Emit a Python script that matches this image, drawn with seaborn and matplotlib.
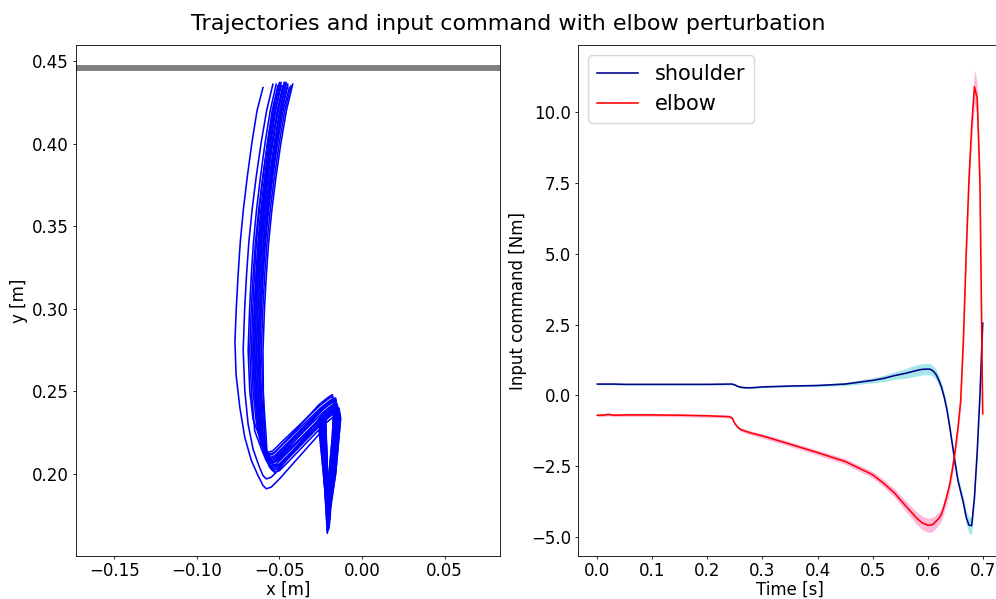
import matplotlib
matplotlib.use("Agg")
import matplotlib.pyplot as plt
from matplotlib.ticker import MultipleLocator
import seaborn as sns
import pandas as pd

# ---------------- Left panel: hand trajectories (x [m], y [m]) ----------------
t1_x = [-0.024, -0.0205, -0.0197, -0.018, -0.016, -0.015, -0.016, -0.019, -0.024, -0.047, -0.052, -0.055, -0.057, -0.0595, -0.061, -0.063, -0.064, -0.0632, -0.0622, -0.061, -0.0592, -0.057, -0.0544, -0.0514, -0.048]
t1_y = [0.230, 0.166, 0.174, 0.200, 0.222, 0.239, 0.245, 0.243, 0.239, 0.213, 0.208, 0.207, 0.209, 0.215, 0.227, 0.250, 0.275, 0.300, 0.320, 0.340, 0.360, 0.380, 0.400, 0.420, 0.435]
t2_x = [-0.022, -0.020, -0.0192, -0.016, -0.014, -0.013, -0.014, -0.017, -0.022, -0.046, -0.051, -0.054, -0.056, -0.0585, -0.059, -0.061, -0.062, -0.0612, -0.0601, -0.0588, -0.0569, -0.0545, -0.0518, -0.0486, -0.045]
t2_y = [0.228, 0.170, 0.178, 0.200, 0.222, 0.234, 0.240, 0.238, 0.234, 0.210, 0.205, 0.204, 0.206, 0.212, 0.224, 0.250, 0.275, 0.300, 0.320, 0.340, 0.360, 0.380, 0.400, 0.420, 0.436]
t3_x = [-0.025, -0.021, -0.0202, -0.020, -0.018, -0.017, -0.018, -0.021, -0.026, -0.049, -0.054, -0.057, -0.059, -0.0615, -0.064, -0.066, -0.067, -0.0662, -0.0652, -0.064, -0.0622, -0.060, -0.0574, -0.0544, -0.051]
t3_y = [0.233, 0.164, 0.172, 0.200, 0.222, 0.242, 0.248, 0.246, 0.242, 0.217, 0.212, 0.211, 0.213, 0.219, 0.231, 0.250, 0.275, 0.300, 0.320, 0.340, 0.360, 0.380, 0.400, 0.420, 0.435]
t4_x = [-0.023, -0.0205, -0.0197, -0.019, -0.017, -0.016, -0.017, -0.019, -0.022, -0.026, -0.050, -0.055, -0.058, -0.060, -0.063, -0.067, -0.071, -0.074, -0.0763, -0.077, -0.0762, -0.0751, -0.0738, -0.0719, -0.0695, -0.0668, -0.0636, -0.060]
t4_y = [0.229, 0.168, 0.176, 0.200, 0.222, 0.236, 0.242, 0.239, 0.232, 0.224, 0.197, 0.192, 0.191, 0.193, 0.199, 0.208, 0.222, 0.240, 0.260, 0.280, 0.300, 0.320, 0.340, 0.360, 0.380, 0.400, 0.420, 0.434]
t5_x = [-0.026, -0.0205, -0.0197, -0.017, -0.015, -0.014, -0.015, -0.018, -0.023, -0.045, -0.050, -0.053, -0.055, -0.0575, -0.058, -0.060, -0.061, -0.0601, -0.059, -0.0576, -0.0556, -0.0531, -0.0502, -0.0468, -0.043]
t5_y = [0.226, 0.172, 0.180, 0.200, 0.222, 0.230, 0.236, 0.234, 0.230, 0.207, 0.202, 0.201, 0.203, 0.209, 0.221, 0.250, 0.275, 0.300, 0.320, 0.340, 0.360, 0.380, 0.400, 0.420, 0.435]
t6_x = [-0.024, -0.021, -0.0202, -0.019, -0.017, -0.016, -0.017, -0.020, -0.025, -0.048, -0.053, -0.056, -0.058, -0.0605, -0.063, -0.065, -0.066, -0.0652, -0.0642, -0.063, -0.0612, -0.059, -0.0564, -0.0534, -0.050]
t6_y = [0.231, 0.167, 0.175, 0.200, 0.222, 0.240, 0.246, 0.244, 0.240, 0.218, 0.213, 0.212, 0.214, 0.220, 0.232, 0.250, 0.275, 0.300, 0.320, 0.340, 0.360, 0.380, 0.400, 0.420, 0.437]
t7_x = [-0.022, -0.020, -0.0192, -0.018, -0.016, -0.015, -0.016, -0.019, -0.024, -0.047, -0.052, -0.055, -0.057, -0.0595, -0.062, -0.064, -0.065, -0.0641, -0.063, -0.0616, -0.0596, -0.0571, -0.0542, -0.0508, -0.047]
t7_y = [0.232, 0.175, 0.183, 0.200, 0.222, 0.237, 0.243, 0.241, 0.237, 0.214, 0.209, 0.208, 0.210, 0.216, 0.228, 0.250, 0.275, 0.300, 0.320, 0.340, 0.360, 0.380, 0.400, 0.420, 0.437]
t8_x = [-0.025, -0.0205, -0.0197, -0.016, -0.014, -0.013, -0.014, -0.017, -0.022, -0.046, -0.051, -0.054, -0.056, -0.0585, -0.060, -0.062, -0.063, -0.0621, -0.0611, -0.0598, -0.0579, -0.0555, -0.0528, -0.0496, -0.046]
t8_y = [0.227, 0.169, 0.177, 0.200, 0.222, 0.233, 0.239, 0.237, 0.233, 0.209, 0.204, 0.203, 0.205, 0.211, 0.223, 0.250, 0.275, 0.300, 0.320, 0.340, 0.360, 0.380, 0.400, 0.420, 0.436]
t9_x = [-0.023, -0.021, -0.0202, -0.020, -0.018, -0.017, -0.018, -0.021, -0.026, -0.049, -0.054, -0.057, -0.059, -0.0615, -0.066, -0.068, -0.069, -0.0681, -0.0671, -0.0658, -0.0639, -0.0615, -0.0588, -0.0556, -0.052]
t9_y = [0.234, 0.165, 0.173, 0.200, 0.222, 0.241, 0.247, 0.245, 0.241, 0.219, 0.214, 0.213, 0.215, 0.221, 0.233, 0.250, 0.275, 0.300, 0.320, 0.340, 0.360, 0.380, 0.400, 0.420, 0.436]
t10_x = [-0.024, -0.0205, -0.0197, -0.017, -0.015, -0.014, -0.015, -0.018, -0.023, -0.047, -0.052, -0.055, -0.057, -0.0595, -0.0605, -0.0615, -0.062, -0.0611, -0.060, -0.0586, -0.0566, -0.0541, -0.0512, -0.0478, -0.044]
t10_y = [0.229, 0.171, 0.179, 0.200, 0.222, 0.235, 0.241, 0.239, 0.235, 0.211, 0.206, 0.205, 0.207, 0.213, 0.225, 0.250, 0.275, 0.300, 0.320, 0.340, 0.360, 0.380, 0.400, 0.420, 0.434]
t11_x = [-0.022, -0.020, -0.0192, -0.019, -0.017, -0.016, -0.017, -0.020, -0.025, -0.048, -0.053, -0.056, -0.058, -0.0605, -0.062, -0.064, -0.065, -0.0642, -0.0632, -0.062, -0.0602, -0.058, -0.0554, -0.0524, -0.049]
t11_y = [0.231, 0.167, 0.175, 0.200, 0.222, 0.238, 0.244, 0.242, 0.238, 0.215, 0.210, 0.209, 0.211, 0.217, 0.229, 0.250, 0.275, 0.300, 0.320, 0.340, 0.360, 0.380, 0.400, 0.420, 0.437]
t12_x = [-0.026, -0.021, -0.0202, -0.018, -0.016, -0.015, -0.016, -0.019, -0.024, -0.050, -0.055, -0.058, -0.060, -0.0625, -0.066, -0.069, -0.071, -0.072, -0.0711, -0.070, -0.0686, -0.0666, -0.0641, -0.0612, -0.0578, -0.054]
t12_y = [0.230, 0.173, 0.181, 0.200, 0.222, 0.236, 0.242, 0.240, 0.236, 0.203, 0.198, 0.197, 0.199, 0.205, 0.215, 0.230, 0.250, 0.275, 0.300, 0.320, 0.340, 0.360, 0.380, 0.400, 0.420, 0.436]
t13_x = [-0.023, -0.0205, -0.0197, -0.017, -0.015, -0.014, -0.015, -0.018, -0.023, -0.046, -0.051, -0.054, -0.056, -0.0585, -0.059, -0.0598, -0.060, -0.0591, -0.058, -0.0566, -0.0546, -0.0521, -0.0492, -0.0458, -0.042]
t13_y = [0.228, 0.169, 0.177, 0.200, 0.222, 0.232, 0.238, 0.236, 0.232, 0.208, 0.203, 0.202, 0.204, 0.210, 0.222, 0.250, 0.275, 0.300, 0.320, 0.340, 0.360, 0.380, 0.400, 0.420, 0.436]
t14_x = [-0.025, -0.0205, -0.0197, -0.019, -0.017, -0.016, -0.017, -0.020, -0.025, -0.048, -0.053, -0.056, -0.058, -0.0605, -0.063, -0.065, -0.066, -0.0651, -0.0641, -0.0628, -0.0609, -0.0585, -0.0558, -0.0526, -0.049]
t14_y = [0.232, 0.166, 0.174, 0.200, 0.222, 0.239, 0.245, 0.243, 0.239, 0.216, 0.211, 0.210, 0.212, 0.218, 0.230, 0.250, 0.275, 0.300, 0.320, 0.340, 0.360, 0.380, 0.400, 0.420, 0.435]
t15_x = [-0.024, -0.0205, -0.0197, -0.018, -0.016, -0.015, -0.016, -0.019, -0.024, -0.047, -0.052, -0.055, -0.057, -0.0595, -0.063, -0.065, -0.066, -0.0651, -0.0639, -0.0624, -0.0603, -0.0576, -0.0546, -0.051, -0.047]
t15_y = [0.233, 0.168, 0.176, 0.200, 0.222, 0.240, 0.246, 0.244, 0.240, 0.215, 0.210, 0.209, 0.211, 0.217, 0.229, 0.250, 0.275, 0.300, 0.320, 0.340, 0.360, 0.380, 0.400, 0.420, 0.437]
t16_x = [-0.023, -0.0205, -0.0197, -0.017, -0.015, -0.014, -0.015, -0.018, -0.023, -0.045, -0.050, -0.053, -0.055, -0.0575, -0.060, -0.062, -0.063, -0.0621, -0.061, -0.0596, -0.0576, -0.0551, -0.0522, -0.0488, -0.045]
t16_y = [0.227, 0.170, 0.178, 0.200, 0.222, 0.234, 0.240, 0.238, 0.234, 0.211, 0.206, 0.205, 0.207, 0.213, 0.225, 0.250, 0.275, 0.300, 0.320, 0.340, 0.360, 0.380, 0.400, 0.420, 0.435]
t17_x = [-0.025, -0.021, -0.0202, -0.019, -0.017, -0.016, -0.017, -0.020, -0.025, -0.048, -0.053, -0.056, -0.058, -0.0605, -0.065, -0.067, -0.068, -0.0671, -0.066, -0.0646, -0.0626, -0.0601, -0.0572, -0.0538, -0.050]
t17_y = [0.231, 0.166, 0.174, 0.200, 0.222, 0.238, 0.244, 0.242, 0.238, 0.212, 0.207, 0.206, 0.208, 0.214, 0.226, 0.250, 0.275, 0.300, 0.320, 0.340, 0.360, 0.380, 0.400, 0.420, 0.436]
t18_x = [-0.022, -0.020, -0.0192, -0.017, -0.015, -0.014, -0.015, -0.018, -0.023, -0.046, -0.051, -0.054, -0.056, -0.0585, -0.061, -0.063, -0.064, -0.0631, -0.062, -0.0606, -0.0586, -0.0561, -0.0532, -0.0498, -0.046]
t18_y = [0.229, 0.171, 0.179, 0.200, 0.222, 0.236, 0.242, 0.240, 0.236, 0.213, 0.208, 0.207, 0.209, 0.215, 0.227, 0.250, 0.275, 0.300, 0.320, 0.340, 0.360, 0.380, 0.400, 0.420, 0.437]

target_y = 0.4458  # grey target line

# ---------------- Right panel: mean input command (Nm) and spread ----------------
time = [0.0, 0.01, 0.02, 0.03, 0.05, 0.1, 0.15, 0.2, 0.24, 0.245, 0.25, 0.255, 0.26, 0.27, 0.28,
        0.3, 0.35, 0.4, 0.45, 0.5, 0.52, 0.54, 0.56, 0.58, 0.59, 0.6, 0.605, 0.61, 0.615, 0.62,
        0.625, 0.63, 0.635, 0.64, 0.645, 0.65, 0.655, 0.66, 0.665, 0.67, 0.675, 0.68, 0.685,
        0.69, 0.695, 0.7]
shoulder = [0.40, 0.40, 0.40, 0.40, 0.39, 0.39, 0.39, 0.39, 0.40, 0.40, 0.37, 0.32, 0.29, 0.27, 0.27,
            0.30, 0.33, 0.35, 0.40, 0.53, 0.60, 0.70, 0.78, 0.88, 0.92, 0.93, 0.92, 0.86, 0.75, 0.55,
            0.30, -0.05, -0.50, -1.10, -1.75, -2.40, -3.00, -3.40, -3.80, -4.30, -4.58, -4.60, -3.60,
            -2.00, 0.00, 2.55]
shoulder_sd = [0.03, 0.03, 0.03, 0.03, 0.03, 0.03, 0.03, 0.03, 0.03, 0.03, 0.03, 0.03, 0.03, 0.03, 0.03,
               0.03, 0.03, 0.04, 0.06, 0.09, 0.11, 0.14, 0.17, 0.20, 0.20, 0.20, 0.20, 0.19, 0.18, 0.17,
               0.16, 0.16, 0.16, 0.16, 0.16, 0.16, 0.17, 0.18, 0.20, 0.24, 0.30, 0.30, 0.25,
               0.22, 0.20, 0.20]
elbow = [-0.70, -0.70, -0.67, -0.70, -0.69, -0.69, -0.70, -0.72, -0.75, -0.80, -1.00, -1.12, -1.20, -1.27, -1.33,
         -1.43, -1.72, -2.02, -2.33, -2.80, -3.10, -3.45, -3.90, -4.33, -4.50, -4.58, -4.58, -4.55, -4.45, -4.35,
         -4.20, -3.90, -3.55, -3.15, -2.60, -1.95, -1.15, -0.20, 2.00, 5.00, 7.60, 9.50, 10.90,
         10.50, 7.50, -0.65]
elbow_sd = [0.05, 0.05, 0.05, 0.05, 0.05, 0.05, 0.05, 0.05, 0.05, 0.05, 0.06, 0.06, 0.06, 0.07, 0.07,
            0.08, 0.08, 0.09, 0.10, 0.11, 0.13, 0.15, 0.18, 0.22, 0.24, 0.25, 0.25, 0.25, 0.24, 0.23,
            0.22, 0.22, 0.24, 0.25, 0.25, 0.25, 0.26, 0.28, 0.30, 0.38, 0.45, 0.55, 0.60,
            0.55, 0.45, 0.45]

# ---------------- Build tidy tables ----------------
traj_x = [t1_x, t2_x, t3_x, t4_x, t5_x, t6_x, t7_x, t8_x, t9_x, t10_x, t11_x, t12_x,
          t13_x, t14_x, t15_x, t16_x, t17_x, t18_x]
traj_y = [t1_y, t2_y, t3_y, t4_y, t5_y, t6_y, t7_y, t8_y, t9_y, t10_y, t11_y, t12_y,
          t13_y, t14_y, t15_y, t16_y, t17_y, t18_y]
rows = []
for k, (xs, ys) in enumerate(zip(traj_x, traj_y)):
    for i, (xv, yv) in enumerate(zip(xs, ys)):
        rows.append({"trial": k, "step": i, "x": xv, "y": yv})
traj_df = pd.DataFrame(rows)

cmd_df = pd.DataFrame({"time": time, "shoulder": shoulder, "shoulder_sd": shoulder_sd,
                       "elbow": elbow, "elbow_sd": elbow_sd})

# ---------------- Figure ----------------
TICK = 12
fig = plt.figure(figsize=(9.96, 5.99), dpi=100)
ax1 = fig.add_axes([0.0763, 0.0718, 0.4257, 0.853])
ax2 = fig.add_axes([0.5803, 0.0718, 0.4257, 0.853])

sns.lineplot(data=traj_df, x="x", y="y", units="trial", estimator=None, sort=False,
             color="blue", linewidth=1.15, ax=ax1)
ax1.axhline(target_y, color="gray", linewidth=4.3)
ax1.set_xlim(-0.1733, 0.0836)
ax1.set_ylim(0.1503, 0.4597)
ax1.xaxis.set_major_locator(MultipleLocator(0.05))
ax1.yaxis.set_major_locator(MultipleLocator(0.05))
ax1.set_xlabel("x [m]", fontsize=TICK, labelpad=0.5)
ax1.set_ylabel("y [m]", fontsize=TICK, labelpad=2.9)

ax2.fill_between(cmd_df["time"], cmd_df["shoulder"] - cmd_df["shoulder_sd"],
                 cmd_df["shoulder"] + cmd_df["shoulder_sd"], color="c", alpha=0.35, linewidth=0)
ax2.fill_between(cmd_df["time"], cmd_df["elbow"] - cmd_df["elbow_sd"],
                 cmd_df["elbow"] + cmd_df["elbow_sd"], color="deeppink", alpha=0.3, linewidth=0)
sns.lineplot(data=cmd_df, x="time", y="shoulder", color="darkblue", linewidth=1.15,
             label="shoulder", ax=ax2)
sns.lineplot(data=cmd_df, x="time", y="elbow", color="red", linewidth=1.15,
             label="elbow", ax=ax2)
ax2.set_xlim(-0.035, 0.735)
ax2.set_ylim(-5.67, 12.37)
ax2.xaxis.set_major_locator(MultipleLocator(0.1))
ax2.yaxis.set_major_locator(MultipleLocator(2.5))
ax2.set_xlabel("Time [s]", fontsize=TICK, labelpad=0.5)
ax2.set_ylabel("Input command [Nm]", fontsize=TICK, labelpad=2.9)
ax2.legend(loc="upper left", fontsize=15, handlelength=2.0)

for ax in (ax1, ax2):
    ax.tick_params(labelsize=TICK, length=2.5, width=0.6, pad=2.5)
    ax.tick_params(axis="x", pad=1.5)
    for sp in ax.spines.values():
        sp.set_linewidth(0.6)

fig.suptitle("Trajectories and input command with elbow perturbation", fontsize=16,
             x=0.51, y=0.96, va="center")

fig.savefig("out.png", dpi=100)
